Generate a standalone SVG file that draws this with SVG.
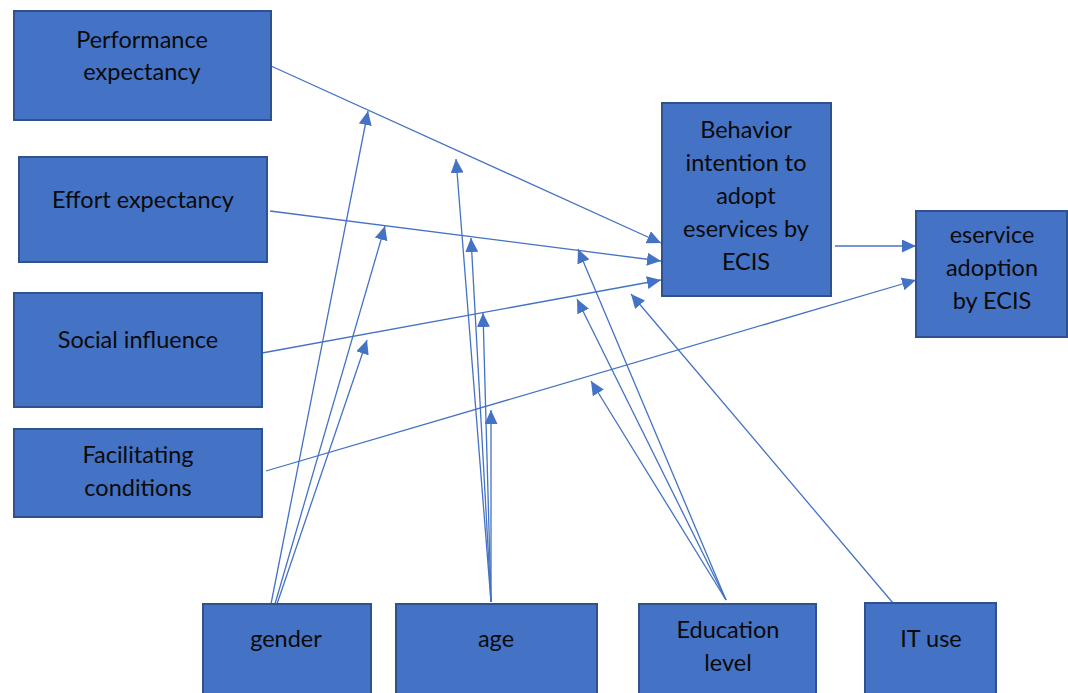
<svg xmlns="http://www.w3.org/2000/svg" width="1068" height="693" viewBox="0 0 1068 693">
<defs>
<style>
.box{fill:#4472C4;stroke:#2F528F;stroke-width:2}
.t{font-family:Lato,"Liberation Sans",sans-serif;font-size:23.5px;fill:#0a0a0a;text-anchor:middle}
.c{stroke:#4472C4;stroke-width:1.3;fill:none;marker-end:url(#ah)}
</style>
<marker id="ah" markerUnits="userSpaceOnUse" markerWidth="14" markerHeight="13" refX="14" refY="6.5" orient="auto" viewBox="0 0 14 13">
<path d="M0,0 L14,6.5 L0,13 z" fill="#4472C4"/>
</marker>
</defs>
<rect width="1068" height="693" fill="#fff"/>
<g id="connectors">
<line class="c" x1="271" y1="66" x2="661" y2="243"/>
<line class="c" x1="270" y1="211" x2="661" y2="261"/>
<line class="c" x1="262" y1="353" x2="661" y2="280"/>
<line class="c" x1="266" y1="471" x2="916" y2="280"/>
<line class="c" x1="835" y1="246" x2="916" y2="246"/>
<line class="c" x1="893" y1="603" x2="631" y2="294"/>
<line class="c" x1="271" y1="604" x2="368" y2="111"/>
<line class="c" x1="275" y1="604" x2="385" y2="226"/>
<line class="c" x1="277" y1="604" x2="367" y2="340"/>
<line class="c" x1="491" y1="602" x2="456" y2="159"/>
<line class="c" x1="491" y1="602" x2="471" y2="238"/>
<line class="c" x1="491" y1="602" x2="483" y2="313"/>
<line class="c" x1="491" y1="602" x2="491" y2="410"/>
<line class="c" x1="726" y1="600" x2="578" y2="249"/>
<line class="c" x1="726" y1="600" x2="577" y2="299"/>
<line class="c" x1="726" y1="600" x2="591" y2="381"/>
</g>
<g id="performance">
<rect class="box" x="14" y="11" width="257" height="109"/>
<text class="t" x="142" y="48">Performance</text>
<text class="t" x="142" y="80">expectancy</text>
</g>
<g id="effort">
<rect class="box" x="19" y="157" width="248" height="105"/>
<text class="t" x="143" y="208">Effort expectancy</text>
</g>
<g id="social">
<rect class="box" x="14" y="293" width="248" height="114"/>
<text class="t" x="138" y="348">Social influence</text>
</g>
<g id="facilitating">
<rect class="box" x="14" y="429" width="248" height="88"/>
<text class="t" x="138" y="463">Facilitating</text>
<text class="t" x="138" y="496">conditions</text>
</g>
<g id="behavior">
<rect class="box" x="662" y="103" width="169" height="193"/>
<text class="t" x="746" y="138">Behavior</text>
<text class="t" x="746" y="171">intention to</text>
<text class="t" x="746" y="204">adopt</text>
<text class="t" x="746" y="237">eservices by</text>
<text class="t" x="746" y="270">ECIS</text>
</g>
<g id="adoption">
<rect class="box" x="916" y="211" width="151" height="126"/>
<text class="t" x="992" y="243">eservice</text>
<text class="t" x="992" y="276">adoption</text>
<text class="t" x="992" y="309">by ECIS</text>
</g>
<g id="gender">
<rect class="box" x="203" y="604" width="168" height="95"/>
<text class="t" x="286" y="647">gender</text>
</g>
<g id="age">
<rect class="box" x="396" y="604" width="201" height="95"/>
<text class="t" x="496" y="647">age</text>
</g>
<g id="education">
<rect class="box" x="639" y="604" width="177" height="95"/>
<text class="t" x="728" y="638">Education</text>
<text class="t" x="728" y="671">level</text>
</g>
<g id="ituse">
<rect class="box" x="865" y="603" width="131" height="96"/>
<text class="t" x="931" y="647">IT use</text>
</g>
</svg>
